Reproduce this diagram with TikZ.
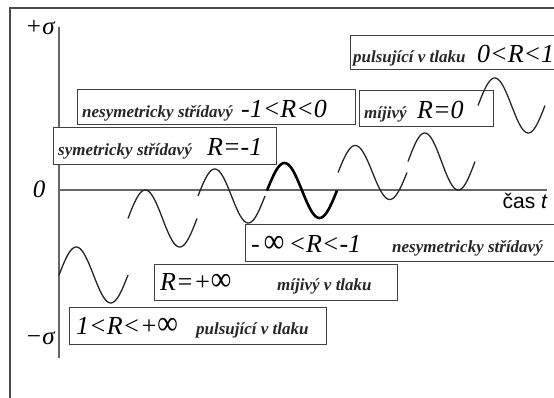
\documentclass[tikz,border=0pt]{standalone}
\usepackage{fontspec}
\setmainfont{Liberation Serif}
\newfontfamily\arialfont{Liberation Sans}
\newcommand{\binf}{\scalebox{1.08}[1.3]{∞}}
\tikzset{
  frameline/.style={line width=1.5pt, draw=black!70},
  axisline/.style={line width=1.1pt, draw=black!60},
  box/.style={draw=black!75, line width=1.2pt, fill=white, rectangle, anchor=north west, inner sep=0pt},
  smalltxt/.style={font=\fontsize{17}{17}\selectfont\bfseries\itshape, anchor=base west, inner sep=0pt, text=black!85},
  bigtxt/.style={font=\fontsize{26}{26}\selectfont\itshape, anchor=base west, inner sep=0pt, text=black},
  axtxt/.style={font=\fontsize{25}{25}\selectfont\itshape, inner sep=0pt, text=black},
  wave/.style={line width=1.3pt, draw=black!85},
  boldwave/.style={line width=2.6pt, draw=black},
}
\begin{document}
\begin{tikzpicture}[x=1pt,y=-1pt]
\useasboundingbox (0,0) rectangle (554,397);
% frame
\coordinate (fbl) at (10,400);
\coordinate (ftl) at (10,8);
\coordinate (ftr) at (556,8);
\draw[frameline] (fbl) -- (ftl) -- (ftr);
% axes
\coordinate (ytop) at (59,27);
\coordinate (ybot) at (59,358);
\coordinate (xl) at (59,190);
\coordinate (xr) at (547,190);
\draw[axisline] (ytop) -- (ybot);
\draw[axisline] (xl) -- (xr);
\node[axtxt] (psig) at (40,28) {+σ};
\node[axtxt] (zero) at (39,189) {0};
\node[axtxt] (msig) at (40,338) {−σ};
\node[font=\arialfont\fontsize{21}{21}\selectfont, anchor=base east, inner sep=0pt, text=black] (cas) at (548,208) {čas \textit{t}};
% boxes
\node[box, minimum width=215pt, minimum height=34pt] (b1) at (350,35) {};
\node[smalltxt] (t1a) at (353,62) {pulsující v tlaku};
\node[bigtxt] (t1b) at (477,62) {0<R<1};

\node[box, minimum width=278pt, minimum height=35pt] (b2) at (77,89) {};
\node[smalltxt] (t2a) at (82,117) {nesymetricky střídavý};
\node[bigtxt] (t2b) at (241,117) {-1<R<0};

\node[box, minimum width=134pt, minimum height=36pt] (b3) at (359,90) {};
\node[smalltxt] (t3a) at (364,118) {míjivý};
\node[bigtxt] (t3b) at (417,118) {R=0};

\node[box, minimum width=223pt, minimum height=37pt] (b4) at (53,127) {};
\node[smalltxt] (t4a) at (58,155) {symetricky střídavý};
\node[bigtxt] (t4b) at (207,155) {R=-1};

\node[box, minimum width=320pt, minimum height=37pt] (b5) at (245,224) {};
\node[bigtxt] (t5a) at (251,252) {-\,\binf\,<R<-1};
\node[smalltxt] (t5b) at (392,252) {nesymetricky střídavý};

\node[box, minimum width=243pt, minimum height=36pt] (b6) at (154,264) {};
\node[bigtxt] (t6a) at (160,290) {R=+\binf};
\node[smalltxt] (t6b) at (277,290) {míjivý v tlaku};

\node[box, minimum width=257pt, minimum height=37pt] (b7) at (69,307) {};
\node[bigtxt] (t7a) at (76,334) {1<R<+\binf};
\node[smalltxt] (t7b) at (196,334) {pulsující v tlaku};
% waves
\draw[wave] plot[domain=59:128, samples=60, smooth] (\x, {275 - 28*sin((\x-59)/69*360)});
\draw[wave] plot[domain=128:197, samples=60, smooth] (\x, {218.5 - 28.5*sin((\x-128)/69*360)});
\draw[wave] plot[domain=198:265, samples=60, smooth] (\x, {196 - 27*sin((\x-198)/67*360)});
\draw[boldwave] plot[domain=267:337, samples=60, smooth] (\x, {190.5 - 27.5*sin((\x-267)/70*360)});
\draw[wave] plot[domain=338:407, samples=60, smooth] (\x, {172.5 - 27*sin((\x-338)/69*360)});
\draw[wave] plot[domain=408:475, samples=60, smooth] (\x, {161.5 - 28.5*sin((\x-408)/67*360)});
\draw[wave] plot[domain=478:545, samples=60, smooth] (\x, {105.5 - 27.5*sin((\x-478)/67*360)});
\end{tikzpicture}
\end{document}
